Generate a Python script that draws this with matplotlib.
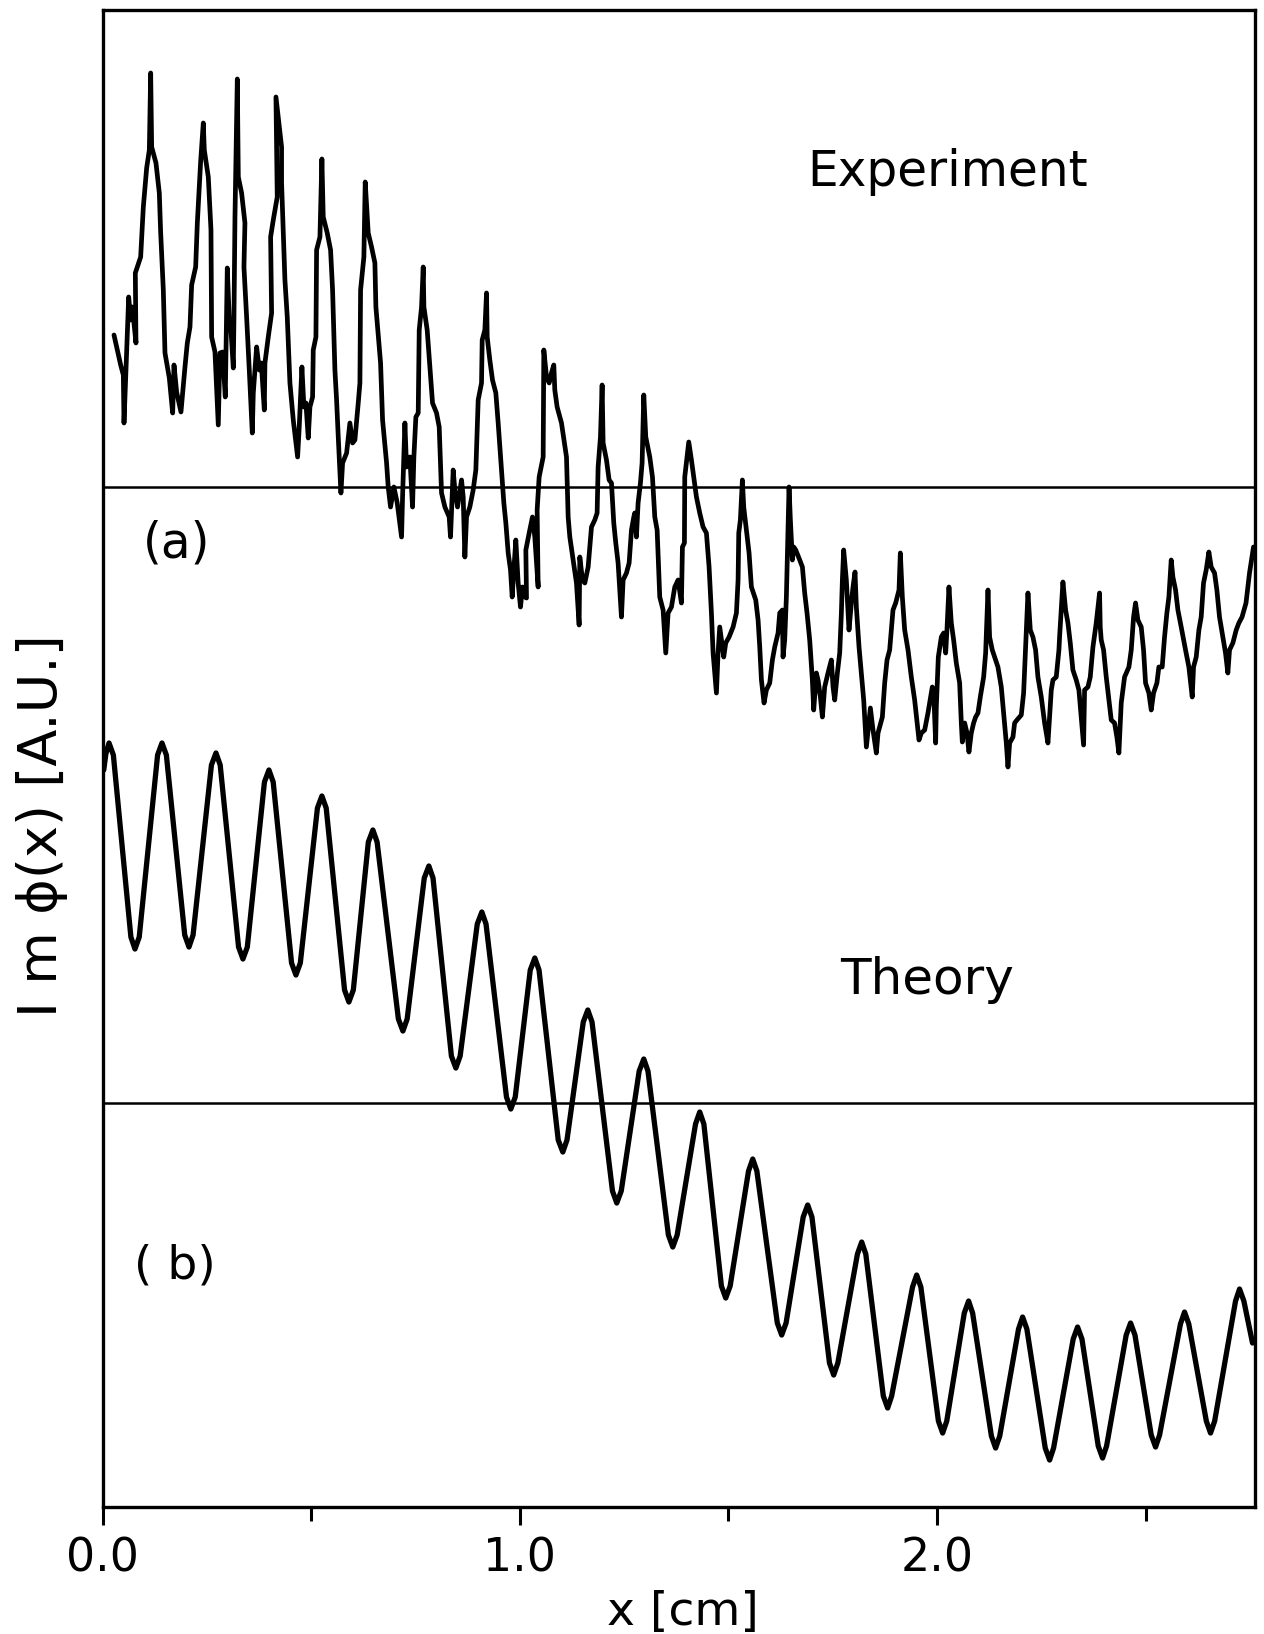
import matplotlib
matplotlib.use("Agg")
import matplotlib.pyplot as plt
from matplotlib.ticker import FixedLocator

# ---- data (x in cm, y in arbitrary units) ----
theory_x = [0.003,
            0.008, 0.0156, 0.026, 0.068, 0.0778, 0.088, 0.132, 0.1425, 0.153,
            0.197, 0.2072, 0.217, 0.261, 0.2719, 0.282, 0.326, 0.3365, 0.347,
            0.388, 0.3988, 0.409, 0.453, 0.4635, 0.474, 0.515, 0.5257, 0.536,
            0.580, 0.5904, 0.601, 0.637, 0.6479, 0.658, 0.709, 0.7198, 0.730,
            0.771, 0.7820, 0.792, 0.836, 0.8467, 0.857, 0.898, 0.9090, 0.919,
            0.968, 0.9784, 0.989, 1.025, 1.0359, 1.046, 1.092, 1.1030, 1.113,
            1.152, 1.1629, 1.173, 1.222, 1.2323, 1.243, 1.286, 1.2970, 1.307,
            1.356, 1.3665, 1.377, 1.421, 1.4311, 1.441, 1.483, 1.4934, 1.504,
            1.548, 1.5581, 1.568, 1.617, 1.6275, 1.638, 1.679, 1.6898, 1.700,
            1.742, 1.7521, 1.762, 1.809, 1.8192, 1.829, 1.871, 1.8814, 1.891,
            1.941, 1.9509, 1.961, 2.003, 2.0132, 2.023, 2.065, 2.0754, 2.085,
            2.130, 2.1401, 2.150, 2.195, 2.2048, 2.215, 2.259, 2.2695, 2.279,
            2.326, 2.3365, 2.347, 2.386, 2.3964, 2.406, 2.453, 2.4635, 2.474,
            2.513, 2.5234, 2.533, 2.583, 2.5928, 2.603, 2.645, 2.6551, 2.665,
            2.715, 2.7246, 2.735,
            2.7557]
theory_y = [7.37,
            7.53, 7.64, 7.52, 5.70, 5.58, 5.70, 7.52, 7.64, 7.52,
            5.72, 5.60, 5.72, 7.42, 7.54, 7.42, 5.60, 5.48, 5.60,
            7.25, 7.37, 7.25, 5.44, 5.32, 5.44, 6.99, 7.11, 6.99,
            5.17, 5.05, 5.17, 6.65, 6.77, 6.65, 4.88, 4.76, 4.88,
            6.29, 6.41, 6.29, 4.51, 4.39, 4.51, 5.83, 5.95, 5.83,
            4.10, 3.98, 4.10, 5.37, 5.49, 5.37, 3.67, 3.55, 3.67,
            4.85, 4.97, 4.85, 3.16, 3.04, 3.16, 4.36, 4.48, 4.36,
            2.72, 2.60, 2.72, 3.83, 3.95, 3.83, 2.21, 2.09, 2.21,
            3.36, 3.48, 3.36, 1.84, 1.72, 1.84, 2.90, 3.02, 2.90,
            1.44, 1.32, 1.44, 2.53, 2.65, 2.53, 1.11, 0.99, 1.11,
            2.20, 2.32, 2.20, 0.86, 0.74, 0.86, 1.94, 2.06, 1.94,
            0.71, 0.59, 0.71, 1.78, 1.90, 1.78, 0.59, 0.47, 0.59,
            1.68, 1.80, 1.68, 0.61, 0.49, 0.61, 1.72, 1.84, 1.72,
            0.72, 0.60, 0.72, 1.83, 1.95, 1.83, 0.86, 0.74, 0.86,
            2.06, 2.18, 2.06,
            1.64]

exp_x = [0.0275, 0.0435, 0.0499, 0.0515, 0.0563, 0.0627, 0.0675, 0.0715, 0.0802, 0.0786,
         0.0914, 0.0978, 0.1058, 0.1122, 0.1154, 0.1178, 0.1281, 0.1361, 0.1393, 0.1457,
         0.1497, 0.1601, 0.1681, 0.1713, 0.1776, 0.1880, 0.1976, 0.2032, 0.2096, 0.2136,
         0.2232, 0.2272, 0.2351, 0.2415, 0.2439, 0.2535, 0.2599, 0.2615, 0.2695, 0.2774,
         0.2814, 0.2878, 0.2942, 0.2990, 0.3038, 0.3078, 0.3134, 0.3150, 0.3174, 0.3230,
         0.3254, 0.3333, 0.3413, 0.3389, 0.3453, 0.3517, 0.3589, 0.3613, 0.3693, 0.3757,
         0.3805, 0.3877, 0.3892, 0.3972, 0.4052, 0.4028, 0.4092, 0.4187, 0.4156, 0.4291,
         0.4291, 0.4371, 0.4427, 0.4491, 0.4571, 0.4675,
         0.4714, 0.4778, 0.4826, 0.4874, 0.4930, 0.4970, 0.5034, 0.5050, 0.5114, 0.5130,
         0.5210, 0.5257, 0.5289, 0.5385, 0.5465, 0.5513, 0.5569, 0.5609, 0.5649, 0.5713,
         0.5753, 0.5849, 0.5928, 0.5992, 0.6048, 0.6128, 0.6168, 0.6184, 0.6263, 0.6295,
         0.6367, 0.6447, 0.6527, 0.6551, 0.6663, 0.6711, 0.6807, 0.6846, 0.6902, 0.6982,
         0.7062, 0.7166, 0.7190, 0.7246, 0.7285, 0.7365, 0.7429, 0.7461, 0.7509, 0.7565,
         0.7589, 0.7645, 0.7685, 0.7701, 0.7780, 0.7844, 0.7908, 0.8004, 0.8068, 0.8124,
         0.8204, 0.8307, 0.8339, 0.8403, 0.8443, 0.8507, 0.8603, 0.8643, 0.8683, 0.8723,
         0.8802, 0.8882, 0.8946, 0.9002, 0.9082, 0.9098, 0.9162,
         0.9202, 0.9218, 0.9281, 0.9345, 0.9425, 0.9481, 0.9561, 0.9617, 0.9665, 0.9721,
         0.9777, 0.9817, 0.9856, 0.9904, 0.9960, 1.0016, 1.0064, 1.0120, 1.0160, 1.0144,
         1.0224, 1.0303, 1.0359, 1.0439, 1.0415, 1.0463, 1.0559, 1.0575, 1.0639, 1.0703,
         1.0758, 1.0814, 1.0838, 1.0894, 1.0998, 1.1118, 1.1158, 1.1198, 1.1277, 1.1357,
         1.1421, 1.1437, 1.1501, 1.1557, 1.1637, 1.1717, 1.1796, 1.1852, 1.1876, 1.1932,
         1.1972, 1.1996, 1.2076, 1.2140, 1.2196, 1.2251, 1.2299, 1.2355, 1.2435, 1.2475,
         1.2555, 1.2619, 1.2675, 1.2731, 1.2754, 1.2794, 1.2834, 1.2890, 1.2930, 1.2970,
         1.3018, 1.3114, 1.3178, 1.3234, 1.3290, 1.3353, 1.3433, 1.3497, 1.3553, 1.3633,
         1.3713, 1.3793,
         1.3872, 1.3896, 1.3944, 1.3952, 1.4048, 1.4112, 1.4168, 1.4232, 1.4311, 1.4391,
         1.4471, 1.4535, 1.4591, 1.4631, 1.4711, 1.4750, 1.4790, 1.4854, 1.4886, 1.4934,
         1.5014, 1.5110, 1.5190, 1.5230, 1.5246, 1.5285, 1.5333, 1.5365, 1.5429, 1.5493,
         1.5549, 1.5653, 1.5709, 1.5749, 1.5789, 1.5852, 1.5908, 1.5988, 1.6052, 1.6108,
         1.6188, 1.6228, 1.6292, 1.6307, 1.6347, 1.6387, 1.6427, 1.6451, 1.6483, 1.6531,
         1.6563, 1.6611, 1.6707, 1.6771, 1.6826, 1.6882, 1.6946, 1.7010, 1.7042, 1.7106,
         1.7146, 1.7202, 1.7250, 1.7305, 1.7385, 1.7465, 1.7505, 1.7545, 1.7609, 1.7665,
         1.7705, 1.7729, 1.7760, 1.7824, 1.7888, 1.7944, 1.7984, 1.8032, 1.8064, 1.8128,
         1.8184, 1.8240, 1.8304,
         1.8400, 1.8463, 1.8543, 1.8583, 1.8687, 1.8743, 1.8799, 1.8862, 1.8942, 1.9006,
         1.9086, 1.9118, 1.9166, 1.9222, 1.9302, 1.9381, 1.9461, 1.9565, 1.9621, 1.9701,
         1.9780, 1.9884, 1.9916, 1.9964, 1.9980, 2.0028, 2.0100, 2.0156, 2.0204, 2.0235,
         2.0283, 2.0339, 2.0395, 2.0459, 2.0539, 2.0579, 2.0603, 2.0659, 2.0715, 2.0762,
         2.0818, 2.0874, 2.0922, 2.0978, 2.1034, 2.1114, 2.1162, 2.1218, 2.1257, 2.1321,
         2.1377, 2.1457, 2.1537, 2.1593, 2.1657, 2.1697, 2.1737, 2.1817, 2.1856, 2.1912,
         2.2016, 2.2072, 2.2120, 2.2176, 2.2232, 2.2295, 2.2359, 2.2415, 2.2495, 2.2575,
         2.2655, 2.2695, 2.2735, 2.2775, 2.2854, 2.2918,
         2.2934, 2.3014, 2.3078, 2.3134, 2.3190, 2.3253, 2.3333, 2.3397, 2.3453, 2.3509,
         2.3533, 2.3613, 2.3669, 2.3733, 2.3812, 2.3892, 2.3908, 2.3932, 2.3988, 2.4052,
         2.4116, 2.4172, 2.4251, 2.4307, 2.4355, 2.4411, 2.4491, 2.4595, 2.4651, 2.4707,
         2.4754, 2.4810, 2.4890, 2.4946, 2.4994, 2.5073, 2.5130, 2.5186, 2.5266, 2.5313,
         2.5393, 2.5449, 2.5505, 2.5553, 2.5609, 2.5649, 2.5713, 2.5769, 2.5848, 2.5952,
         2.6032, 2.6112, 2.6144, 2.6208, 2.6272, 2.6327, 2.6383, 2.6447, 2.6511, 2.6567,
         2.6647, 2.6703, 2.6766, 2.6846, 2.6910, 2.6966, 2.7006, 2.7086, 2.7166, 2.7230,
         2.7306, 2.7401, 2.7485, 2.7581]
exp_y = [11.72, 11.42, 11.32, 10.84, 11.37, 12.10, 11.87, 12.00, 11.64, 12.34,
         12.50, 13.00, 13.39, 13.57, 14.34, 13.60, 13.44, 13.14, 12.75, 12.17,
         11.54, 11.29, 10.94, 11.42, 11.15, 10.95, 11.40, 11.64, 11.80, 12.22,
         12.40, 12.84, 13.45, 13.84, 13.57, 13.30, 12.77, 11.70, 11.55, 10.82,
         11.54, 11.55, 11.10, 12.39, 11.87, 11.77, 11.39, 11.90, 12.90, 14.28,
         13.30, 13.14, 12.84, 12.40, 11.90, 11.37, 10.74, 11.14, 11.60, 11.37,
         11.44, 10.97, 11.44, 11.70, 11.94, 12.70, 12.87, 13.10, 14.10, 13.60,
         13.24, 12.27, 11.90, 11.24, 10.87, 10.50,
         10.80, 11.40, 11.00, 11.04, 10.69, 11.00, 11.10, 11.57, 11.70, 12.57,
         12.70, 13.48, 12.90, 12.74, 12.57, 12.17, 11.37, 11.07, 10.70, 10.14,
         10.44, 10.54, 10.84, 10.64, 10.67, 11.04, 11.24, 12.17, 12.50, 13.25,
         12.74, 12.60, 12.44, 12.00, 11.44, 10.87, 10.44, 10.20, 10.00, 10.20,
         10.04, 9.70, 10.10, 10.84, 10.40, 10.50, 10.00, 10.50, 10.90, 10.94,
         11.77, 12.00, 12.40, 12.00, 11.77, 11.40, 11.04, 10.94, 10.80, 10.14,
         10.00, 9.90, 9.70, 10.37, 10.17, 10.00, 10.27, 10.10, 9.50, 9.90,
         10.00, 10.17, 10.37, 11.07, 11.24, 11.67, 11.77,
         12.14, 11.70, 11.47, 11.27, 11.14, 10.84, 10.37, 10.04, 9.84, 9.54,
         9.37, 9.10, 9.37, 9.67, 9.24, 9.00, 9.20, 9.10, 9.09, 9.57,
         9.74, 9.90, 9.70, 9.20, 9.97, 10.30, 10.50, 11.57, 11.30, 11.24,
         11.34, 11.42, 11.17, 11.00, 10.84, 10.50, 9.90, 9.70, 9.47, 9.24,
         8.82, 9.50, 9.27, 9.24, 9.40, 9.80, 9.87, 9.94, 10.40, 10.70,
         11.22, 10.64, 10.47, 10.27, 10.24, 9.84, 9.64, 9.44, 8.90, 9.27,
         9.34, 9.44, 9.77, 9.90, 9.94, 9.70, 10.04, 10.24, 10.44, 11.12,
         10.70, 10.50, 10.30, 9.90, 9.77, 9.10, 8.97, 8.54, 8.94, 9.00,
         9.20, 9.27,
         9.04, 9.60, 9.64, 10.30, 10.65, 10.47, 10.30, 10.10, 9.94, 9.80,
         9.74, 9.40, 8.94, 8.54, 8.14, 8.54, 8.80, 8.60, 8.50, 8.64,
         8.70, 8.80, 8.94, 9.27, 9.74, 9.87, 10.27, 10.00, 9.77, 9.54,
         9.20, 9.07, 8.87, 8.60, 8.27, 8.04, 8.17, 8.24, 8.47, 8.60,
         8.74, 8.94, 8.97, 8.50, 8.67, 9.10, 9.77, 10.20, 9.87, 9.47,
         9.60, 9.57, 9.47, 9.40, 9.14, 8.94, 8.67, 8.27, 7.97, 8.34,
         8.27, 8.10, 7.90, 8.20, 8.34, 8.47, 8.20, 8.07, 8.34, 8.54,
         8.94, 9.27, 9.57, 9.27, 8.77, 9.04, 9.20, 9.35, 9.00, 8.60,
         8.34, 8.07, 7.60,
         7.99, 7.77, 7.54, 7.74, 7.90, 8.24, 8.47, 8.57, 8.97, 9.04,
         9.17, 9.54, 9.10, 8.77, 8.57, 8.30, 8.07, 7.67, 7.74, 7.77,
         7.94, 8.20, 8.17, 7.64, 8.00, 8.50, 8.70, 8.74, 8.54, 8.77,
         9.20, 8.84, 8.67, 8.44, 8.24, 7.84, 7.65, 7.84, 7.74, 7.55,
         7.74, 7.84, 7.90, 7.94, 8.10, 8.30, 8.54, 9.17, 8.70, 8.57,
         8.50, 8.40, 8.20, 7.94, 7.64, 7.40, 7.64, 7.70, 7.84, 7.87,
         7.92, 8.14, 8.60, 9.14, 8.77, 8.70, 8.57, 8.30, 8.10, 7.84,
         7.64, 7.90, 8.17, 8.27, 8.30, 8.57,
         8.70, 9.25, 8.97, 8.84, 8.64, 8.37, 8.27, 8.17, 7.90, 7.62,
         8.17, 8.20, 8.30, 8.60, 8.84, 9.14, 8.80, 8.67, 8.57, 8.30,
         8.07, 7.87, 7.84, 7.70, 7.54, 8.04, 8.30, 8.40, 8.57, 8.90,
         9.04, 8.87, 8.80, 8.57, 8.24, 8.14, 7.97, 8.14, 8.24, 8.40,
         8.40, 8.70, 8.94, 9.10, 9.47, 9.30, 9.17, 8.97, 8.80, 8.57,
         8.40, 8.10, 8.40, 8.50, 8.77, 8.90, 9.24, 9.37, 9.55, 9.40,
         9.34, 9.17, 8.90, 8.70, 8.54, 8.34, 8.57, 8.64, 8.77, 8.84,
         8.90, 9.04, 9.34, 9.60]

exp_baseline = 10.20
theory_baseline = 4.04
x_major = [0.0, 1.0, 2.0]
x_major_labels = ["0.0", "1.0", "2.0"]
x_minor = [0.5, 1.5, 2.5]

# ---- figure ----
plt.rcParams['font.family'] = ['DejaVu Sans']
fig = plt.figure(figsize=(12.64, 16.34), dpi=100)
ax = fig.add_axes([0.0811, 0.0777, 0.9114, 0.9162])

ax.plot(exp_x, exp_y, color='black', lw=3.4, solid_joinstyle='round', solid_capstyle='round')
ax.plot(theory_x, theory_y, color='black', lw=3.8, solid_joinstyle='round', solid_capstyle='round')
ax.axhline(exp_baseline, color='black', lw=1.8)
ax.axhline(theory_baseline, color='black', lw=1.8)

ax.set_xlim(0, 2.7605)
ax.set_ylim(0, 14.97)

for s in ax.spines.values():
    s.set_linewidth(2.4)

ax.xaxis.set_major_locator(FixedLocator(x_major))
ax.set_xticklabels(x_major_labels)
ax.xaxis.set_minor_locator(FixedLocator(x_minor))
ax.tick_params(axis='x', which='major', direction='out', length=13, width=2.2,
               labelsize=33, pad=8)
ax.tick_params(axis='x', which='minor', direction='out', length=10, width=2.2)
ax.set_yticks([])

ax.text(2.025, 13.35, "Experiment", fontsize=35, ha='center', va='center')
ax.text(1.975, 5.27, "Theory", fontsize=36, ha='center', va='center')
ax.text(0.178, 9.63, "(a)", fontsize=35, ha='center', va='center')
ax.text(0.174, 2.41, "( b)", fontsize=34, ha='center', va='center')

fig.text(683 / 1264, 1 - 1613 / 1634, "x [cm]", fontsize=34, ha='center', va='center')
fig.text(42 / 1264, 1 - 826 / 1634, "I m \u03d5(x) [A.U.]", fontsize=39,
         ha='center', va='center', rotation=90)

fig.savefig("out.png", dpi=100)
